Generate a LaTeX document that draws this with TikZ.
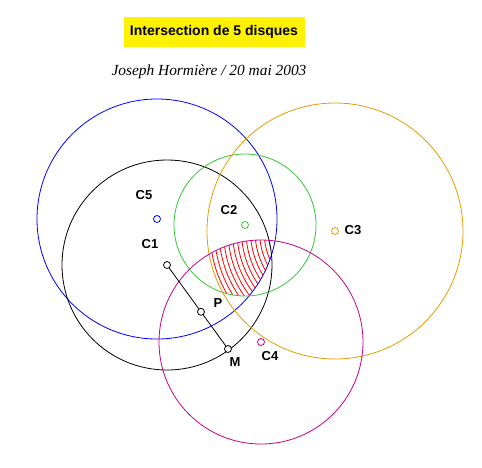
\documentclass[tikz,border=0pt]{standalone}
\usepackage{fontspec}
\setmainfont{Liberation Serif}
\newfontfamily\labfont{Liberation Sans}
\usetikzlibrary{calc}
\definecolor{vert}{RGB}{50,200,50}
\definecolor{orange}{RGB}{230,155,0}
\definecolor{magenta}{RGB}{200,0,140}
\begin{document}
\begin{tikzpicture}[x=1pt,y=-1pt,line width=0.8pt,
  lbl/.style={font=\labfont\bfseries\fontsize{13}{13}\selectfont},
  ctr/.style={draw,circle,inner sep=0pt,minimum size=7pt,fill=white}]
\useasboundingbox (0,0) rectangle (482,467);
% centres
\coordinate (c1) at (167,265);
\coordinate (c2) at (245,225);
\coordinate (c3) at (335,231);
\coordinate (c4) at (261,342);
\coordinate (c5) at (157,219);
% title
\node[fill=yellow,minimum width=181pt,minimum height=30pt,
  font=\labfont\bfseries\fontsize{14}{14}\selectfont] (titre) at (214,32) {Intersection de 5 disques};
\node[font=\itshape\fontsize{15.4}{15}\selectfont] (auteur) at (209,72) {Joseph Hormière / 20 mai 2003};
% hatching
\begin{scope}
\clip (c1) circle[radius=105pt];
\clip (c2) circle[radius=71pt];
\clip (c3) circle[radius=128pt];
\clip (c4) circle[radius=102pt];
\clip (c5) circle[radius=120pt];
\foreach \r in {62,66.5,...,130}
  \draw[red] (c3) circle[radius=\r pt];
\end{scope}
% disks
\draw[blue] (c5) circle[radius=120pt];
\draw (c1) circle[radius=105pt];
\draw[vert] (c2) circle[radius=71pt];
\draw[orange] (c3) circle[radius=128pt];
\draw[magenta] (c4) circle[radius=102pt];
% segment
\node[ctr] (m1) at (c1) {};
\node[ctr] (m) at (228,349) {};
\draw (m1) -- (m);
\node[ctr] (p) at ($(c1)!0.557!(228,349)$) {};
\node[ctr,draw=blue] (m5) at (c5) {};
\node[ctr,draw=vert] (m2) at (c2) {};
\node[ctr,draw=orange] (m3) at (c3) {};
\node[ctr,draw=magenta] (m4) at (c4) {};
% labels
\node[lbl] (l5) at (144,195) {C5};
\node[lbl] (l2) at (229,210) {C2};
\node[lbl] (l1) at (150,244) {C1};
\node[lbl] (l3) at (353,230) {C3};
\node[lbl] (l4) at (270,356) {C4};
\node[lbl] (lp) at (218,303) {P};
\node[lbl] (lm) at (235,362) {M};
\end{tikzpicture}
\end{document}
